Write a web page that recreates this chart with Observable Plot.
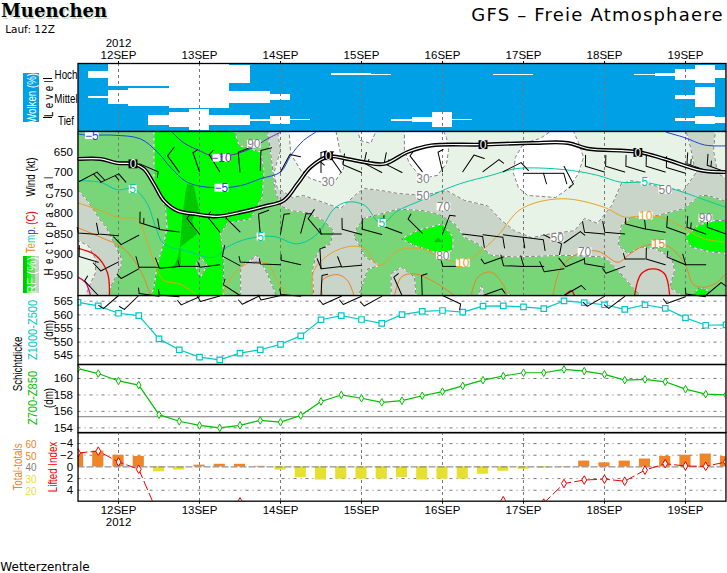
<!DOCTYPE html>
<html><head><meta charset="utf-8">
<script src="https://cdn.jsdelivr.net/npm/d3@7"></script>
<script src="https://cdn.jsdelivr.net/npm/@observablehq/plot@0.6"></script>
<style>
html,body{margin:0;padding:0;background:#fff;overflow:hidden}
#page{position:relative;width:727px;height:573px;overflow:hidden;font-family:"Liberation Sans",sans-serif;color:#000}
svg text{font-family:"Liberation Sans",sans-serif}
#page svg{position:absolute;left:0}
.l{position:absolute;white-space:nowrap;font-size:13px;line-height:1}
</style></head><body><div id="page"></div>
<script>
const hours=[-12,-6,0,6,12,18,24,30,36,42,48,54,60,66,72,78,84,90,96,102,108,114,120,126,132,138,144,150,156,162,168,174,180];
const dayTicks=[0,24,48,72,96,120,144,168];
const dayLabels=["12SEP","13SEP","14SEP","15SEP","16SEP","17SEP","18SEP","19SEP"];
const year="2012";
// cloud cover (%)
const cloudHigh=[0,30,100,100,100,100,100,100,80,0,0,0,0,8,8,5,0,0,0,0,0,4,4,0,0,0,0,0,4,15,50,80,35];
const cloudMid=[0,8,64,77,80,100,100,100,57,57,27,0,0,0,0,0,0,0,0,0,0,0,0,0,0,0,0,0,0,0,17,90,0];
const cloudLow=[0,0,0,0,45,64,94,45,45,10,36,5,0,0,0,0,8,20,64,6,0,0,0,0,0,0,0,0,0,0,12,36,27];
// thickness (dm)
const z1000=[564.6,563.3,560.6,559.7,551.2,547.2,544.5,543.5,546,547.2,549.2,552.3,558.2,559.7,558.3,556.9,560.1,561.3,561.6,561,563.2,563.3,562.9,562.3,565.1,564.5,563.7,562,563.7,562.4,558.9,556.2,556.3];
const z700=[161.2,160.6,159.7,159.2,155.6,154.8,154.3,154,154.3,154.9,154.7,155.5,157.2,158,157.6,157.1,157.3,157.9,158.4,159.1,159.8,160.3,160.7,160.7,161.1,160.9,160.5,159.8,159.9,159.6,158.7,158.1,158];
// total-totals bars on the lifted-index axis, and the lifted index itself
const totals=[-2.4,-2.7,-2,-1.8,.85,.55,-.3,-.45,-.45,-.1,.55,1.85,2.25,2.1,2.1,2.1,1.85,2.25,2.1,2.1,1.25,.75,.4,.2,-.05,-1,-.7,-1,-1.35,-1.8,-2,-2.2,-1.8];
const lifted=[-2.4,-2.7,-.85,.4,8.5,null,null,null,6,null,null,null,null,null,null,null,null,null,null,null,null,5.8,null,6.2,2.85,2.25,2.1,2.45,.55,-.55,-.15,-.1,-.85];
// isotherms [hour, hPa]
const isoM5=[[[-12,606],[-9.3,609],[-1.4,609],[6.5,618],[11.5,650],[15.4,687],[20.4,724],[28.3,737],[36.2,732],[42.1,715],[48,699],[51,659],[54.8,622],[58.4,602]],[[162.3,602],[167.8,615],[173.7,633],[180,635]]];
const isoM10=[[[15.9,602],[19.4,628],[24.3,648],[28.3,661],[34.2,656],[40.1,638],[44.1,618],[48,602]]];
const iso0=[[[-12,667],[-5.3,667],[-.4,677],[4.5,679],[7.5,691],[10.5,728],[13.4,768],[17.4,793],[23.3,802],[29.2,807],[36.2,797],[43.1,783],[49,768],[53,728],[56.9,687],[62.3,661],[67.8,667],[72.9,675],[78.8,679],[85.7,650],[92.7,634],[107.5,632],[122.3,628],[133.2,628],[139.1,642],[153.9,650],[161.8,667],[172.7,695],[180,699]]];
const iso5=[[[-12,720],[-5.3,724],[-.4,742],[4.5,740],[8.5,776],[11,833],[13.4,874],[20.4,892],[28.3,907],[32.2,882],[38.1,862],[46,856],[53,874],[58.9,850],[63.8,789],[67.8,772],[72.9,780],[77.8,825],[82.8,793],[89.7,768],[97.1,740],[102.5,724],[110.4,707],[117.4,691],[124.3,689],[134.2,695],[142,707],[149,724],[155.9,724],[165.8,744],[172.7,764],[180,785]]];
const iso10=[[[-12,774],[-5.3,793],[.6,811],[5.5,813],[8.5,870],[11.5,939],[13.4,963],[18.4,973],[23.3,1000]],[[30.7,1000],[34.2,947],[39.1,919],[44.1,923],[47,963],[50,1000]],[[57.4,1000],[57.9,939],[62.8,898],[68.8,880],[72.9,886],[77.3,927],[82.8,890],[89.7,886],[96.6,911],[102.5,919],[106.5,898],[112.4,854],[119.3,789],[131.2,764],[144,785],[150,809],[155.9,805],[161.8,811],[168.7,841],[173.7,862],[180,870]]];
const iso15=[[[-12,835],[-5.3,858],[1.6,886],[6.5,939],[9.5,1000]],[[60.4,1000],[60.4,963],[64.8,949],[67.8,963],[69.8,1000]],[[81.8,1000],[83.8,955],[87.7,947],[93.6,967],[99.6,1000]],[[104.5,1000],[106.5,955],[110.4,943],[114.4,980],[114.9,1000]],[[128.7,1000],[131.2,931],[136.1,898],[142,892],[148,919],[151,902],[154.9,882],[159.8,874],[163.3,882],[167.8,923],[170.2,972],[172.7,980],[176.6,972],[180,947]]];
const iso20=[[[-11.9,885],[-6.8,902],[-3.3,944],[-2.7,1000]],[[152.9,1000],[154.9,947],[158.4,935],[161.8,947],[163.3,1000]],[[132.2,1000],[134.2,988],[135.1,1000]]];
const iso25=[[[-11.9,956],[-9.8,968],[-8.3,1000]]];
// relative humidity regions [hour, hPa]
const rhWhite=[
[[50.5,594],[51,654],[54.4,700],[56.9,715],[60.3,724],[64.3,720],[66.7,690],[65.8,654],[64.3,594]],
[[70.7,594],[71.7,622],[74.7,629],[76.6,594]],
[[84.7,594],[84.7,646],[86.2,678],[88.6,702],[91.6,712],[94.5,707],[97.2,678],[97.8,646],[97.2,615],[96,594]],
[[129,594],[125,617],[120,629],[117.6,663],[117,702],[118.5,737],[121.2,756],[129.5,761],[133.3,739],[136.3,702],[137.8,663],[136.3,627],[134.5,594]]];
const rhGrey=[[[-14,594],[47,594],[48,646],[46,702],[47,737],[51.5,761],[54.8,756],[60.7,773],[65.8,788],[70.7,751],[72.9,739],[77.9,744],[82.7,751],[90.1,756],[97.2,744],[102.5,768],[109.3,781],[113.5,817],[117.3,842],[122.4,859],[128.3,849],[135.1,842],[138.1,812],[141.9,824],[146.1,781],[149,727],[152,720],[161.5,737],[167.4,744],[171,702],[169.5,639],[168,594],[176.9,594],[176.3,646],[177.5,702],[182,724],[182,1006],[-14,1006]]];
const rhLightLeft=[[[-14,859],[-9,878],[-6.8,910],[-6.8,944],[-8.3,971],[-9.5,995],[-9.5,1006],[-14,1006]]];
const rhMedium=[
[[-14,594],[44.1,594],[45,646],[45.9,707],[46.5,744],[48,781],[51,793],[55.9,798],[60.7,817],[63.7,842],[62.8,874],[59.9,886],[58.4,907],[57.4,939],[57.9,1006],[47,1006],[44.1,947],[41.1,902],[36.2,931],[36.2,1006],[-3,1006],[-2.4,980],[.6,932],[.9,910],[-3.6,834],[-5.3,817],[-9.3,768],[-14,724]],
[[72.9,811],[70.7,833],[69.8,858],[71.7,882],[72.9,905],[77.3,927],[73.9,935],[70.9,1006],[155.4,1006],[151.9,976],[148,939],[144,906],[132.2,902],[117.4,906],[110.4,902],[106.5,874],[102.5,858],[99.6,825],[94.6,801],[90.2,793],[82.8,789],[77.8,801]],
[[151.9,809],[149,828],[148,877],[151,898],[154.9,882],[158.9,886],[163.8,906],[164.8,939],[163.3,980],[167.8,1006],[182,1006],[182,776],[174.7,756],[172.4,756],[167.4,788],[159.7,805]]];
const rhGreyPatch=[[[80.8,1006],[80.8,947],[83.8,931],[87.7,955],[88.2,1006]],[[106.5,1006],[107.5,976],[109,1006]]];
const rhBright=[
[[10.5,594],[34.2,594],[35.7,634],[42.1,650],[43.1,695],[42.6,760],[39.1,813],[32.2,824],[30.2,850],[31.2,898],[31,1006],[9.5,1006],[10.5,980],[11.5,923],[13.4,874],[14.4,833],[13.9,785],[10.5,728]],
[[83.8,862],[88.7,841],[96.1,825],[99.1,858],[99.1,890],[94.6,897],[87.7,878]],
[[167.8,858],[171.7,829],[176.6,817],[182,817],[182,899],[175.6,894],[169.7,882]],
[[169.2,1006],[172.2,980],[174.7,988],[175.2,1006]],
[[114.9,1006],[115.9,995],[116.9,1006]]];
const rhHole=[[[24.3,905],[26.3,927],[24.3,955],[22.8,927]]];
const rhDark=[[[20.4,728],[22.3,732],[23.8,789],[21.8,817],[23.3,850],[18.4,882],[18.4,927],[15.9,935],[17.4,911],[18.2,882],[18.9,809],[19.9,744]],[[93.5,870],[94.6,858],[96.1,870]]];
// wind barbs [hour, hPa, bearing, knots]
const wind700=[[-11.6,722,62,20],[-5.3,724,65,15],[6.3,679,113,5],[18,699,324,10],[24,698,341,5],[30,698,328,5],[36,699,355,10],[42,695,2,10],[48,699,28,10],[54.8,700,56,5],[60,700,0,5],[66,700,325,5],[72,700,293,10],[78,700,298,15],[84,700,297,15],[90,698,322,10],[96,698,347,5],[102,698,34,10],[108,698,53,5],[114,698,63,10],[120,702,90,10],[126,702,90,10],[132,685,152,5],[144,699,287,10],[150,699,287,10],[156,699,287,10],[162,699,287,10],[168,702,287,10],[174,695,290,15],[180,699,290,15]];
const wind850=[[-6,851,274,5],[0,854,275,10],[6,853,242,10],[12,837,287,15],[18,845,277,10],[24,850,321,5],[30,845,321,5],[36,845,315,5],[42,850,355,10],[48,850,10,5],[54,848,15,5],[60,850,320,10],[66,850,270,5],[72,851,285,10],[78,851,285,10],[84,848,290,10],[90,848,315,5],[96,850,21,5],[102,850,97,10],[108,852,97,10],[114,852,97,10],[120,858,97,10],[126,852,117,10],[132,872,55,5],[144,850,275,10],[150,850,275,10],[156,838,285,5],[162,846,280,10],[168,850,290,10],[174,850,290,15],[180,850,290,10]];
const wind925=[[-6,919,287,10],[0,918,243,10],[6,935,241,5],[12,931,270,10],[18,929,265,10],[24,929,270,5],[30,925,263,5],[36,927,298,10],[42,921,273,5],[48,925,272,5],[54,925,283,5],[60,935,357,5],[66,929,263,10],[72,926,265,10],[102,929,270,5],[114,906,250,5],[120,929,272,10],[126,929,270,10],[132,935,262,10],[138,911,247,10],[144,931,280,5],[150,929,250,5],[156,911,270,5],[162,925,287,10],[168,925,293,5],[174,925,270,10]];
const wind1000=[[-6,1000,317,5],[0,1000,229,5],[6,1000,226,5],[12,1002,278,5],[18,1003,275,5],[24,1003,246,5],[30,1001,254,5],[36,1000,303,5],[42,1000,244,5],[48,1000,257,5],[54,1002,275,5],[60,1000,3,5],[66,1002,246,5],[72,1002,246,5],[78,1002,241,5],[84,1000,336,5],[90,1000,358,5],[96,1000,115,5],[108,1000,70,5],[132,1000,60,5],[144,1002,240,5],[150,1002,233,5],[168,1003,250,5],[174,1003,278,5],[174,1000,50,5]];
// contour labels [hour, hPa, text]
const labelsM5=[[-7.9,609,"−5"],[30.5,737,"−5"]];
const labelsM10=[[30.5,664,"−10"]];
const labels0=[[4.3,679,"0"],[62.2,659,"0"],[108,632,"0"],[153.9,651,"0"]];
const labels5=[[4.2,740,"5"],[42.1,856,"5"],[78,823,"5"],[155.9,722,"5"]];
const labels10=[[102,920,"10"],[156.2,805,"10"]];
const labels15=[[160,874,"15"]];
const labelsRH=[[40.1,630,"90"],[62.1,722,"30"],[90.2,715,"30"],[90.2,756,"50"],[96.3,783,"70"],[96.1,902,"80"],[130,859,"50"],[138.1,892,"70"],[162,742,"50"],[173.9,811,"90"]];

const C={blue:"#00a0e6",light:"#e8f3e8",grey:"#c8d5c8",med:"#78d678",bright:"#00ff00",dark:"#00c800",grid:"#777",m5:"#2040e0",m10:"#7020d0",t5:"#00c8a0",t10:"#eaa020",t15:"#f08020",t20:"#f00000",t25:"#e00070",cy:"#00c8c8",gr:"#00c000",or:"#f08428",ye:"#e6e030",red:"#f00000"};
const page=document.getElementById("page");
const X={domain:[-12,180]};
const fX=d=>d[0], fY=d=>d[1];
function panel(top,h,y,marks,mt=0,mb=0){
  const s=Plot.plot({width:727,height:h+mt+mb,marginLeft:77.5,marginRight:1.5,marginTop:mt,marginBottom:mb,x:X,y:y,marks,
    style:{background:"transparent",overflow:"visible",maxWidth:"none",fontSize:"11.5px"}});
  s.style.top=(top-mt)+"px";
  page.appendChild(s);
}
const vgrid=Plot.ruleX(dayTicks,{stroke:C.grid,strokeDasharray:"3,3"});
const noX=Plot.axisX({ticks:[],label:null,tickSize:0});
const yAxis=(ticks)=>Plot.axisY({ticks,tickSize:0,tickPadding:5,label:null,tickFormat:d=>String(d).replace("-","−")});
const hgrid=(ticks)=>Plot.ruleY(ticks,{stroke:C.grid,strokeDasharray:"3,4,1,4"});
const tickFmtTop=d=>(d===0?year+"\n":"")+dayLabels[dayTicks.indexOf(d)];
const tickFmtBot=d=>dayLabels[dayTicks.indexOf(d)]+(d===0?"\n"+year:"");

// thickness 1
const z1Rows=hours.map((t,i)=>[t,z1000[i]]);
panel(295,69,{domain:[541.8,567.1]},[
  noX,yAxis([545,550,555,560,565]),hgrid([545,550,555,560,565]),
  Plot.line(z1Rows,{x:fX,y:fY,stroke:C.cy,strokeWidth:1.2,clip:true}),
  Plot.dot(z1Rows,{x:fX,y:fY,symbol:"square",r:3.1,stroke:C.cy,strokeWidth:1.2,fill:"white",clip:true}),
  Plot.frame({stroke:"#000",strokeWidth:1.3})]);
// thickness 2
const z7Rows=hours.map((t,i)=>[t,z700[i]]);
panel(364,68.3,{domain:[153.4,161.7]},[
  noX,yAxis([154,156,158,160]),hgrid([154,156,158,160]),
  Plot.ruleY([155.35],{stroke:C.grid,strokeWidth:1}),
  Plot.line(z7Rows,{x:fX,y:fY,stroke:C.gr,strokeWidth:1.2,clip:true}),
  Plot.dot(z7Rows,{x:fX,y:fY,symbol:"diamond",r:2.3,stroke:C.gr,strokeWidth:1,fill:"white",clip:true}),
  Plot.frame({stroke:"#000",strokeWidth:1.3})]);
// lifted index
const totRows=hours.map((t,i)=>[t,totals[i]]);
const liRows=hours.map((t,i)=>[t,lifted[i]]);
panel(432.3,68.7,{domain:[5.88,-5.9]},[
  Plot.axisX({anchor:"bottom",ticks:dayTicks,tickSize:3,tickPadding:2,tickFormat:tickFmtBot,label:null}),
  yAxis([-4,-2,0,2,4]),hgrid([-4,-2,2,4]),vgrid,
  Plot.rect(totRows,{x1:d=>d[0]-1.65,x2:d=>d[0]+1.65,y1:0,y2:fY,fill:d=>d[1]<0?C.or:C.ye,clip:true}),
  Plot.ruleY([0],{stroke:C.grid,strokeDasharray:"7,2"}),
  Plot.line(liRows,{x:fX,y:fY,defined:d=>d[1]!=null,stroke:C.red,strokeWidth:1,strokeDasharray:"9,4",clip:true}),
  Plot.dot(liRows.filter(d=>d[1]!=null),{x:fX,y:fY,symbol:"diamond",r:2.6,stroke:C.red,strokeWidth:1,fill:"white",clip:true}),
  Plot.frame({stroke:"#000",strokeWidth:1.3})],0,30);
// clouds
const cloudRows=(vals,c)=>hours.map((t,i)=>[t,c,vals[i]]).filter(d=>d[2]>0);
const cl=[...cloudRows(cloudHigh,250),...cloudRows(cloudMid,150),...cloudRows(cloudLow,50)];
panel(63,68,{domain:[0,300]},[
  Plot.frame({fill:C.blue}),
  Plot.rect(cl,{x1:d=>d[0]-3,x2:d=>d[0]+3,y1:d=>d[1]-d[2]/2,y2:d=>d[1]+d[2]/2,fill:"white",clip:true,shapeRendering:"crispEdges"}),
  vgrid,
  Plot.axisX({anchor:"top",ticks:dayTicks,tickSize:3,tickPadding:2,tickFormat:tickFmtTop,label:null}),
  Plot.axisY({ticks:[],tickSize:0,label:null}),
  Plot.frame({stroke:"#000",strokeWidth:1.3})],30,0);
// humidity / temperature / wind
const closed=a=>[...a,a[0]];
const region=(polys,fill)=>polys.flatMap(p=>[
  Plot.line(p,{x:fX,y:fY,fill,stroke:"none",clip:true}),
  Plot.line(closed(p),{x:fX,y:fY,stroke:"#fff",strokeWidth:1,clip:true}),
  Plot.line(closed(p),{x:fX,y:fY,stroke:"#808080",strokeWidth:1,strokeDasharray:"3,3",clip:true})]);
const iso=(lines,stroke,w=1)=>lines.map(p=>Plot.line(p,{x:fX,y:fY,stroke,strokeWidth:w,curve:"catmull-rom",clip:true}));
// white (or black) plate behind a contour label, then the label itself
const lab=(rows,fill,bg="#fff",r=4.4)=>{
  const plate=(o,want)=>Plot.dot(rows.filter(want),{x:fX,y:fY,symbol:"square",r,fill:bg,dx:o});
  return [
    plate(0,d=>d[2].length===1),
    plate(-3,d=>d[2].length===2),plate(3,d=>d[2].length===2),
    plate(-5,d=>d[2].length===3),plate(5,d=>d[2].length===3),
    Plot.text(rows,{x:fX,y:fY,text:d=>d[2],fill,fontSize:12,dy:.5})];
};
const barbShape=kt=>({draw(c,l){
  c.moveTo(0,0);c.lineTo(0,-l);
  let y=-l,n=Math.floor(kt/10);
  for(let i=0;i<n;i++){c.moveTo(0,y);c.lineTo(10.5,y-3);y+=4;}
  if(kt%10>=5){c.moveTo(0,y);c.lineTo(5.5,y-1.5);}
}});
const allWind=[...wind700,...wind850,...wind925,...wind1000];
const barbMarks=Array.from(d3.group(allWind,d=>d[3]),([kt,rows])=>Plot.vector(rows,{x:fX,y:fY,rotate:d=>d[2],length:20,anchor:"start",shape:barbShape(kt),stroke:"#000",strokeWidth:1}));
panel(131,164,{domain:[1000,600]},[
  Plot.frame({fill:C.light}),
  ...region(rhGrey,C.grey),
  ...region(rhWhite,"#fff"),
  ...region(rhLightLeft,C.light),
  ...region(rhMedium,C.med),
  ...region(rhGreyPatch,C.grey),
  ...region(rhBright,C.bright),
  ...region(rhHole,C.med),
  Plot.line(rhDark[0],{x:fX,y:fY,fill:C.dark,stroke:"none"}),
  Plot.line(rhDark[1],{x:fX,y:fY,fill:C.dark,stroke:"none"}),
  vgrid,
  Plot.axisX({ticks:[],tickSize:0,label:null}),
  yAxis([650,700,750,800,850,900,950]),
  ...iso(isoM10,C.m10),...iso(isoM5,C.m5),...iso(iso5,C.t5),...iso(iso10,C.t10),...iso(iso15,C.t15),...iso(iso20,C.t20,1.3),...iso(iso25,C.t25,1.3),
  ...barbMarks,
  ...iso(iso0,"#000",4),...iso(iso0,"#fff",1.2),
  ...lab(labelsRH,"#808080"),...lab(labelsM5,C.m5),...lab(labelsM10,C.m10),...lab(labels5,C.t5),...lab(labels10,C.t10),...lab(labels15,C.t15),
  ...lab(labels0,"#fff","#000",5),
  Plot.frame({stroke:"#000",strokeWidth:1.3})]);

// frame text
function L(html,x,y,o={}){
  const e=document.createElement("div");e.className="l";e.innerHTML=html;
  e.style.left=x+"px";e.style.top=y+"px";
  const sx=o.sx??.75;
  e.style.transform=`translate(-50%,-50%)${o.rot?" rotate(-90deg)":""} scaleX(${sx})`;
  if(o.color)e.style.color=o.color;
  if(o.spacing)e.style.letterSpacing=o.spacing+"px";
  if(o.css)e.style.cssText+=o.css;
  page.appendChild(e);return e;
}
function box(x,y,w,h,bg){const e=document.createElement("div");e.style.cssText=`position:absolute;left:${x}px;top:${y}px;width:${w}px;height:${h}px;background:${bg}`;page.appendChild(e);}
L("Muenchen",54,11,{sx:1,css:"font-family:'DejaVu Serif';font-size:18px;font-weight:bold;text-shadow:1.5px 1.5px 0 #c8d5c8"});
L("Lauf: 12Z",30,29,{sx:1,css:"font-family:'DejaVu Sans';font-size:10.5px"});
L("GFS – Freie Atmosphaere",597.5,15,{sx:1,spacing:1.2,css:"font-family:'DejaVu Sans';font-size:18px"});
L("Wetterzentrale",45,567,{sx:1,css:"font-family:'DejaVu Sans';font-size:12px"});
box(23,73,16,49,C.blue);
L("Wolken (%)",31,97.5,{rot:1,color:"#fff"});
L("Level",48,97,{rot:1,spacing:4.5});
box(43,78,9,1,"#000");box(43,117,9,1,"#000");
L("Hoch",66,74);L("Mittel",66,98);L("Tief",66,120);
L("Wind (kt)",30,177,{rot:1});
L("(C)",30,218,{rot:1,color:C.red});
L(`<span style="color:${C.t15}">T</span><span style="color:${C.t10}">e</span><span style="color:${C.t5}">m</span><span style="color:${C.m5}">p</span><span style="color:${C.m10}">.</span>`,30,240,{rot:1});
L("Hectopascal",48,224,{rot:1,spacing:6});
box(23,256,4,37,C.dark);box(27,256,4,37,C.bright);box(31,256,4,37,C.med);box(35,256,4,37,C.grey);
L("RF (%)",31,274.5,{rot:1,color:"#fff",sx:.9});
L("Schichtdicke",17,364,{rot:1});
L("Z1000-Z500",32,330,{rot:1,color:C.cy,sx:.85});
L("Z700-Z850",32,398,{rot:1,color:C.gr,sx:.85});
L("(dm)",48,330,{rot:1});L("(dm)",48,398,{rot:1});
L("Total-totals",17,467,{rot:1,color:C.or});
L("Lifted Index",52,467,{rot:1,color:C.red});
[["60",443.5,C.or],["50",455.5,C.or],["40",467,"#808080"],["30",479,C.ye],["20",490.5,C.ye]].forEach(d=>L(d[0],31,d[1],{color:d[2],sx:.9,css:"font-size:11px"}));
</script></body></html>
